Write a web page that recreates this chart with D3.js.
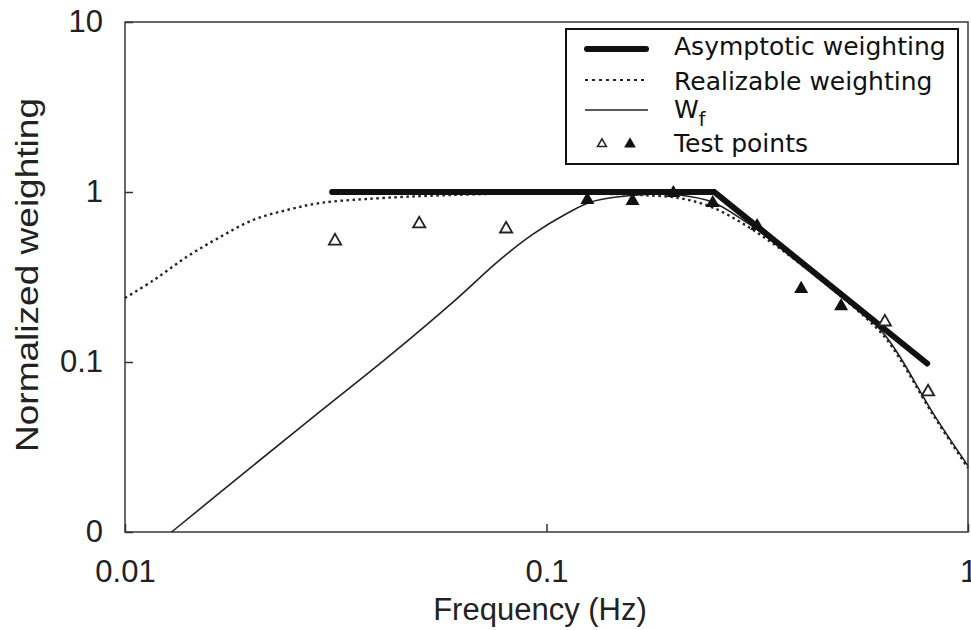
<!DOCTYPE html>
<head>
<meta charset="utf-8">
<script src="https://d3js.org/d3.v7.min.js"></script>
</head>
<style>
body { margin: 0; background: #fff; }
.tick text { font-family: "Liberation Sans", Arial, sans-serif; font-size: 31px; fill: #222; }
.tick line { stroke: #333; stroke-width: 1.5px; }
.legend text { font-family: "DejaVu Sans", Verdana, sans-serif; font-size: 25px; fill: #111; }
</style>
<body>
<script>
// values
var freqAsym = [0.031, 0.25, 0.80];
var wAsym = [1, 1, 0.098];

var freqReal = [0.010, 0.0117, 0.014, 0.0168, 0.0201, 0.0242, 0.029, 0.0375, 0.059, 0.102, 0.14, 0.167, 0.207, 0.248, 0.299, 0.358, 0.429, 0.516, 0.575, 0.635, 0.69, 0.826, 1.0];
var wReal = [0.238, 0.303, 0.415, 0.543, 0.684, 0.783, 0.861, 0.91, 0.96, 0.985, 0.975, 0.96, 0.92, 0.81, 0.63, 0.465, 0.33, 0.228, 0.18, 0.14, 0.104, 0.049, 0.0238];

var freqWf = [0.0129, 0.0201, 0.029, 0.0419, 0.060, 0.0776, 0.0929, 0.112, 0.127, 0.147, 0.176, 0.207, 0.248, 0.299, 0.358, 0.429, 0.516, 0.575, 0.635, 0.69, 0.826, 1.0];
var wWf = [0.01, 0.0245, 0.051, 0.106, 0.225, 0.40, 0.565, 0.75, 0.87, 0.935, 0.97, 0.96, 0.87, 0.66, 0.48, 0.34, 0.235, 0.188, 0.144, 0.107, 0.05, 0.0245];

var freqOpen = [0.0315, 0.0499, 0.0802, 0.635, 0.804];
var wOpen = [0.515, 0.649, 0.606, 0.172, 0.0667];
var freqFilled = [0.125, 0.160, 0.200, 0.248, 0.316, 0.402, 0.500];
var wFilled = [0.898, 0.886, 0.987, 0.861, 0.631, 0.269, 0.213];

var xTicks = [0.01, 0.1, 1];
var xTickLabels = ["0.01", "0.1", "1"];
var yTicks = [10, 1, 0.1, 0.01];
var yTickLabels = ["10", "1", "0.1", "0"];

var legendLabels = ["Asymptotic weighting", "Realizable weighting", "W", "Test points"];

var plotLeft = 125, plotRight = 968, plotTop = 22, plotBottom = 532;

var svg = d3.select("body").append("svg")
    .attr("width", 971)
    .attr("height", 630);

var x = d3.scaleLog().domain([0.01, 1]).range([plotLeft, plotRight]);
var y = d3.scaleLog().domain([0.01, 10]).range([plotBottom, plotTop]);

function zip(a, b) { return a.map(function(d, i) { return [d, b[i]]; }); }

var line = d3.line()
    .x(function(d) { return x(d[0]); })
    .y(function(d) { return y(d[1]); })
    .curve(d3.curveCatmullRom);

// frame
svg.append("rect")
    .attr("x", plotLeft).attr("y", plotTop)
    .attr("width", plotRight - plotLeft).attr("height", plotBottom - plotTop)
    .attr("fill", "none")
    .attr("stroke", "#444")
    .attr("stroke-width", 1.6);

// axes with inward ticks
var xAxis = svg.append("g")
    .attr("transform", "translate(0," + plotBottom + ")")
    .call(d3.axisBottom(x).tickValues(xTicks)
      .tickFormat(function(d, i) { return xTickLabels[i]; })
      .tickSize(-8).tickPadding(28));
xAxis.select(".domain").remove();

var yAxis = svg.append("g")
    .attr("transform", "translate(" + plotLeft + ",0)")
    .call(d3.axisLeft(y).tickValues(yTicks)
      .tickFormat(function(d, i) { return yTickLabels[i]; })
      .tickSize(-8).tickPadding(22));
yAxis.select(".domain").remove();

svg.append("text")
    .attr("x", 540).attr("y", 620)
    .attr("text-anchor", "middle")
    .style("font-family", "Liberation Sans, Arial, sans-serif")
    .style("font-size", "31px")
    .attr("fill", "#222")
    .text("Frequency (Hz)");

svg.append("text")
    .attr("transform", "translate(38,275) rotate(-90)")
    .attr("text-anchor", "middle")
    .attr("textLength", 354)
    .attr("lengthAdjust", "spacingAndGlyphs")
    .style("font-family", "Liberation Sans, Arial, sans-serif")
    .style("font-size", "32px")
    .attr("fill", "#222")
    .text("Normalized weighting");

// curves
svg.append("path")
    .datum(zip(freqReal, wReal))
    .attr("fill", "none")
    .attr("stroke", "#222")
    .attr("stroke-width", 2.4)
    .attr("stroke-dasharray", "2.5,3.5")
    .attr("d", line);

svg.append("path")
    .datum(zip(freqWf, wWf))
    .attr("fill", "none")
    .attr("stroke", "#222")
    .attr("stroke-width", 1.6)
    .attr("d", line);

svg.append("path")
    .datum(zip(freqAsym, wAsym))
    .attr("fill", "none")
    .attr("stroke", "#111")
    .attr("stroke-width", 6)
    .attr("stroke-linecap", "round")
    .attr("stroke-linejoin", "miter")
    .attr("d", d3.line().x(function(d) { return x(d[0]); }).y(function(d) { return y(d[1]); }));

var tri = d3.symbol().type(d3.symbolTriangle);

svg.selectAll(".open").data(zip(freqOpen, wOpen)).enter().append("path")
    .attr("class", "open")
    .attr("transform", function(d) { return "translate(" + x(d[0]) + "," + y(d[1]) + ")"; })
    .attr("d", tri.size(65)())
    .attr("fill", "#fff")
    .attr("stroke", "#222")
    .attr("stroke-width", 1.8);

svg.selectAll(".filled").data(zip(freqFilled, wFilled)).enter().append("path")
    .attr("class", "filled")
    .attr("transform", function(d) { return "translate(" + x(d[0]) + "," + y(d[1]) + ")"; })
    .attr("d", tri.size(85)())
    .attr("fill", "#111");

// legend
var lg = svg.append("g").attr("class", "legend");
lg.append("rect")
    .attr("x", 566).attr("y", 29)
    .attr("width", 392).attr("height", 135)
    .attr("fill", "#fff")
    .attr("stroke", "#111")
    .attr("stroke-width", 2);

lg.append("line").attr("x1", 587).attr("x2", 646).attr("y1", 49).attr("y2", 49)
    .attr("stroke", "#111").attr("stroke-width", 6).attr("stroke-linecap", "round");
lg.append("line").attr("x1", 585).attr("x2", 648).attr("y1", 80).attr("y2", 80)
    .attr("stroke", "#222").attr("stroke-width", 2).attr("stroke-dasharray", "3,4");
lg.append("line").attr("x1", 585).attr("x2", 648).attr("y1", 110).attr("y2", 110)
    .attr("stroke", "#222").attr("stroke-width", 1.6);
lg.append("path").attr("transform", "translate(602,144)")
    .attr("d", d3.symbol().type(d3.symbolTriangle).size(35)())
    .attr("fill", "#fff").attr("stroke", "#222").attr("stroke-width", 1.5);
lg.append("path").attr("transform", "translate(630,144)")
    .attr("d", d3.symbol().type(d3.symbolTriangle).size(60)())
    .attr("fill", "#111");

var baselines = [55, 90, 118, 152];
legendLabels.forEach(function(t, i) {
  var tx = lg.append("text").attr("x", 674).attr("y", baselines[i]).text(t);
  if (i === 2) {
    tx.append("tspan").attr("dy", 8).style("font-size", "19px").text("f");
  }
});
</script>
</body>
